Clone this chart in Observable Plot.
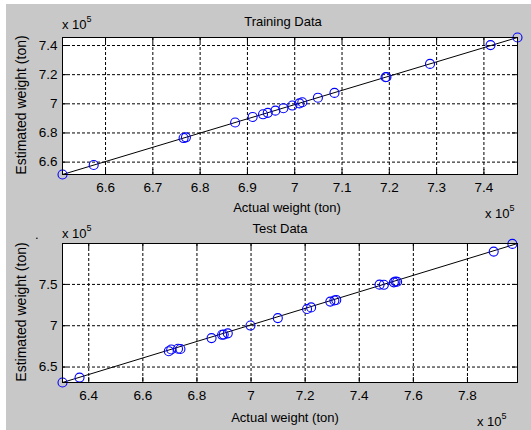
<!DOCTYPE html>
<html>
<head>
<meta charset="utf-8">
<script src="https://cdn.jsdelivr.net/npm/d3@7"></script>
<script src="https://cdn.jsdelivr.net/npm/@observablehq/plot@0.6"></script>
<style>
  html, body { margin: 0; padding: 0; background: #fff; }
  #fig { position: absolute; left: 0; top: 0; width: 531px; height: 430px; overflow: hidden;
         font-family: "Liberation Sans", Arial, sans-serif; color: #000; }
  #bg { position: absolute; left: 6px; top: 4px; width: 525px; height: 426px; background: #c8c8c8; }
  .panel { position: absolute; left: 0; }
  .panel svg { background: transparent !important; }
  .t { position: absolute; font-size: 13px; white-space: nowrap; line-height: 1; }
  .c { transform: translateX(-50%); }
  .rot { transform: translate(-50%, -50%) rotate(-90deg); font-size: 14px; }
  sup { font-size: 9px; position: relative; top: -2px; }
</style>
</head>
<body>
<div id="fig">
  <div id="bg"></div>
  <div id="top" class="panel" style="top:0px"></div>
  <div id="bottom" class="panel" style="top:215px"></div>

  <div class="t c" style="left:283px; top:15px">Training Data</div>
  <div class="t" style="left:62px; top:17px">x 10<sup>5</sup></div>
  <div class="t c" style="left:287px; top:201px">Actual weight (ton)</div>
  <div class="t" style="left:485px; top:206px">x 10<sup>5</sup></div>
  <div class="t rot" style="left:21px; top:105px">Estimated weight (ton)</div>

  <div class="t c" style="left:280px; top:222px">Test Data</div>
  <div class="t" style="left:62px; top:226px">x 10<sup>5</sup></div>
  <div class="t" style="left:35px; top:228px">.</div>
  <div class="t c" style="left:285px; top:411px">Actual weight (ton)</div>
  <div class="t" style="left:477px; top:414px">x 10<sup>5</sup></div>
  <div class="t rot" style="left:21px; top:312px">Estimated weight (ton)</div>
</div>
<script>
// ---- Data (values in units of 10^5 ton) ----
const trainActual = [6.509, 6.575, 6.765, 6.770, 6.874, 6.911, 6.933, 6.943, 6.959, 6.976, 6.995, 7.010, 7.016, 7.049, 7.084, 7.192, 7.194, 7.286, 7.414, 7.471];
const trainEstimated = [6.515, 6.580, 6.765, 6.770, 6.872, 6.910, 6.928, 6.938, 6.953, 6.970, 6.988, 7.003, 7.011, 7.042, 7.075, 7.182, 7.184, 7.274, 7.403, 7.455];
const trainFitX = [6.509, 7.471];
const trainFitY = [6.515, 7.455];
const trainXTicks = [6.6, 6.7, 6.8, 6.9, 7.0, 7.1, 7.2, 7.3, 7.4];
const trainYTicks = [6.6, 6.8, 7.0, 7.2, 7.4];

const testActual = [6.303, 6.366, 6.696, 6.705, 6.730, 6.739, 6.854, 6.893, 6.899, 6.914, 6.998, 7.099, 7.207, 7.222, 7.293, 7.308, 7.315, 7.475, 7.491, 7.528, 7.534, 7.540, 7.897, 7.966];
const testEstimated = [6.313, 6.372, 6.692, 6.712, 6.722, 6.718, 6.850, 6.890, 6.893, 6.908, 7.002, 7.092, 7.202, 7.222, 7.292, 7.305, 7.312, 7.497, 7.495, 7.525, 7.535, 7.532, 7.897, 7.990];
const testFitX = [6.303, 7.985];
const testFitY = [6.313, 7.995];
const testXTicks = [6.4, 6.6, 6.8, 7.0, 7.2, 7.4, 7.6, 7.8];
const testYTicks = [6.5, 7.0, 7.5];

const fmt = d3.format("~g");

function panel({actual, estimated, fitX, fitY, xTicks, yTicks, xDomain, yDomain, height, mt, mb}) {
  const width = 531, ml = 62, mr = 14;
  const pw = width - ml - mr, ph = height - mt - mb;
  const pts = actual.map((a, i) => ({a, e: estimated[i]}));
  const fit = fitX.map((x, i) => ({x, y: fitY[i]}));
  const grid = {stroke: "#000", strokeOpacity: 1, strokeWidth: 1, strokeDasharray: "3,2"};
  return Plot.plot({
    width, height,
    marginLeft: ml, marginRight: mr, marginTop: mt, marginBottom: mb,
    style: {background: "transparent", fontFamily: "'Liberation Sans', Arial, sans-serif", fontSize: "13px", color: "#000"},
    x: {domain: xDomain},
    y: {domain: yDomain},
    marks: [
      Plot.frame({fill: "#fff", stroke: "none"}),
      Plot.gridX(xTicks, grid),
      Plot.gridY(yTicks, grid),
      Plot.line(fit, {x: "x", y: "y", stroke: "#000", strokeWidth: 1}),
      Plot.dot(pts, {x: "a", y: "e", r: 4.5, stroke: "#0000ff", strokeWidth: 1.1, fill: "none"}),
      Plot.tickX(xTicks, {x: d => d, stroke: "#000", insetTop: ph - 5}),
      Plot.tickX(xTicks, {x: d => d, stroke: "#000", insetBottom: ph - 5}),
      Plot.tickY(yTicks, {y: d => d, stroke: "#000", insetRight: pw - 5}),
      Plot.tickY(yTicks, {y: d => d, stroke: "#000", insetLeft: pw - 5}),
      Plot.frame({stroke: "#000", strokeWidth: 1}),
      Plot.axisX(xTicks, {tickSize: 0, tickPadding: 8, tickFormat: fmt, label: null, fontSize: 13.5}),
      Plot.axisY(yTicks, {tickSize: 0, tickPadding: 5, tickFormat: fmt, label: null, fontSize: 13.5})
    ]
  });
}

document.getElementById("top").appendChild(panel({
  actual: trainActual, estimated: trainEstimated, fitX: trainFitX, fitY: trainFitY,
  xTicks: trainXTicks, yTicks: trainYTicks,
  xDomain: [6.509, 7.471], yDomain: [6.515, 7.455],
  height: 215, mt: 37, mb: 41
}));
document.getElementById("bottom").appendChild(panel({
  actual: testActual, estimated: testEstimated, fitX: testFitX, fitY: testFitY,
  xTicks: testXTicks, yTicks: testYTicks,
  xDomain: [6.303, 7.985], yDomain: [6.313, 7.995],
  height: 215, mt: 28, mb: 48
}));
</script>
</body>
</html>
